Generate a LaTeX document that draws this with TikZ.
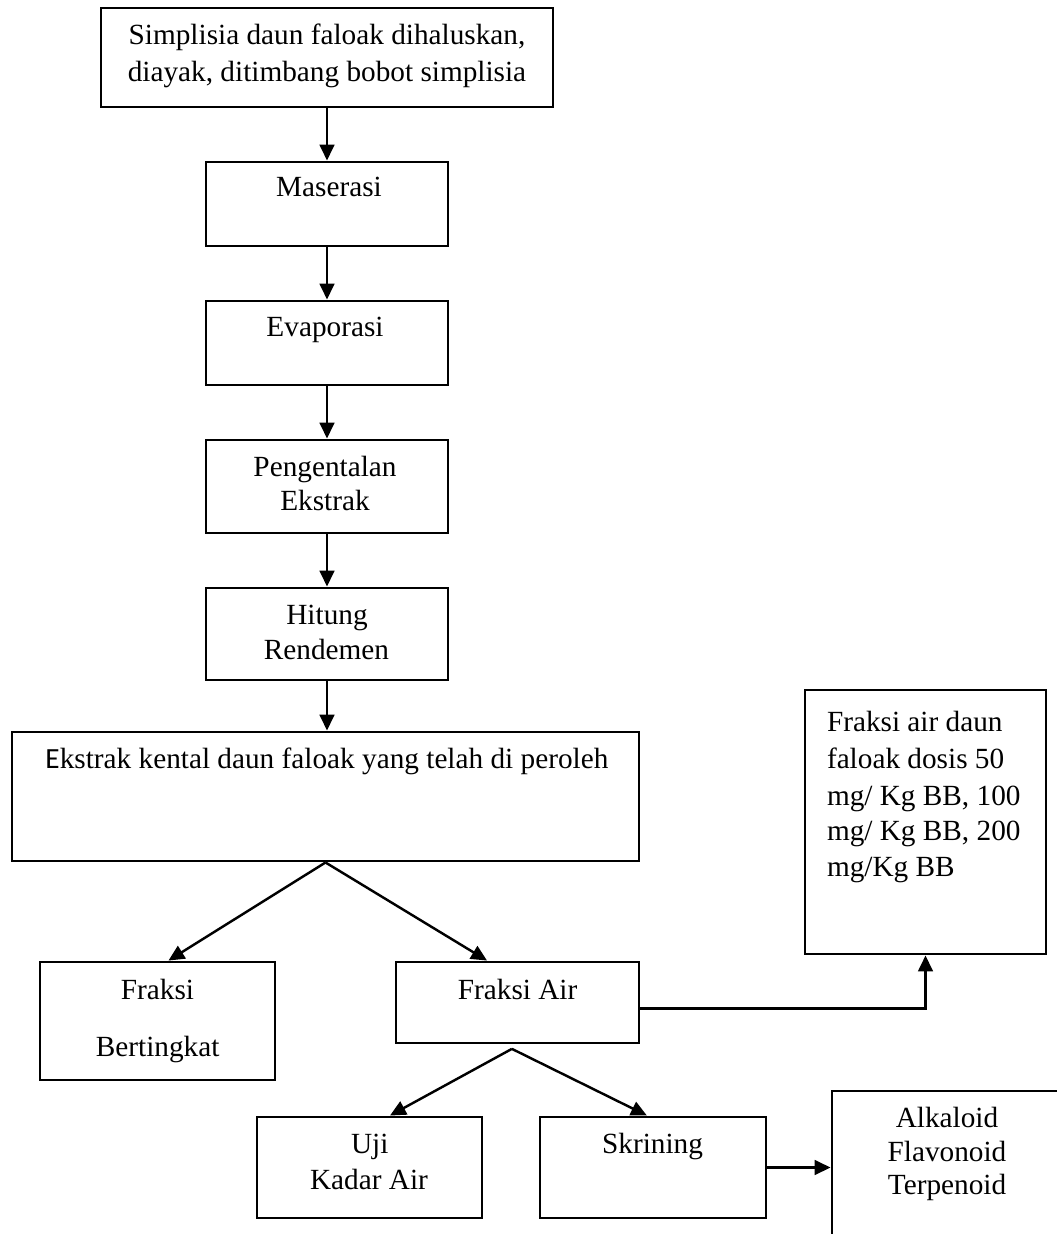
\documentclass[tikz,border=0pt]{standalone}
\usepackage{fontspec}
\setmainfont{Liberation Serif}
\newfontfamily\calfont{Carlito}
\usetikzlibrary{fit,arrows.meta,calc}
\begin{document}
\begin{tikzpicture}[x=0.41pt,y=-0.41pt,
  box/.style={draw,line width=1.2pt,inner sep=0pt,rectangle},
  txt/.style={inner sep=0pt,anchor=base,font=\fontsize{12}{14}\selectfont},
  txtl/.style={txt,anchor=base west},
  arr/.style={line width=1pt,-{Triangle[length=6.5pt,width=6pt]}}]
\useasboundingbox (0,0) rectangle (1057,1234);
\clip (0,0) rectangle (1057,1234);
% boxes
\node[box,fit={(101,8)(553,107)}] (top) {};
\node[box,fit={(206,162)(448,246)}] (mas) {};
\node[box,fit={(206,301)(448,385)}] (eva) {};
\node[box,fit={(206,440)(448,533)}] (pen) {};
\node[box,fit={(206,588)(448,680)}] (hit) {};
\node[box,fit={(12,732)(639,861)}] (eks) {};
\node[box,fit={(805,690)(1046,954)}] (fad) {};
\node[box,fit={(40,962)(275,1080)}] (fb) {};
\node[box,fit={(396,962)(639,1043)}] (fa) {};
\node[box,fit={(257,1117)(482,1218)}] (uji) {};
\node[box,fit={(540,1117)(766,1218)}] (skr) {};
\node[box,fit={(832,1091)(1062,1270)}] (alk) {};
% texts
\node[txt] (t1a) at (327,45) {Simplisia daun faloak dihaluskan,};
\node[txt] (t1b) at (327,82) {diayak, ditimbang bobot simplisia};
\node[txt] (t2) at (329,197) {Maserasi};
\node[txt] (t3) at (325,336.5) {Evaporasi};
\node[txt] (t4a) at (325,476.5) {Pengentalan};
\node[txt] (t4b) at (325,510.6) {Ekstrak};
\node[txt] (t5a) at (327,624.6) {Hitung};
\node[txt] (t5b) at (326.5,659.6) {Rendemen};
\node[txtl] (t6) at (45,768) {{\calfont E}kstrak kental daun faloak yang telah di peroleh};
\node[txtl] (t7a) at (826.5,731) {Fraksi air daun};
\node[txtl] (t7b) at (826.5,768) {faloak dosis 50};
\node[txtl] (t7c) at (826.5,805) {mg/ Kg BB, 100};
\node[txtl] (t7d) at (826.5,840.5) {mg/ Kg BB, 200};
\node[txtl] (t7e) at (826.5,876) {mg/Kg BB};
\node[txt] (t8a) at (157.5,999) {Fraksi};
\node[txt] (t8b) at (157.7,1056) {Bertingkat};
\node[txt] (t9) at (517.6,999) {Fraksi Air};
\node[txt] (t10a) at (369.7,1153.4) {Uji};
\node[txt] (t10b) at (369,1189) {Kadar Air};
\node[txt] (t11) at (652.5,1153.4) {Skrining};
\node[txt] (t12a) at (947,1127) {Alkaloid};
\node[txt] (t12b) at (947,1161) {Flavonoid};
\node[txt] (t12c) at (947,1194.5) {Terpenoid};
% connectors
\draw[arr] (top.south) -- (mas.north);
\draw[arr] (mas.south) -- (eva.north);
\draw[arr] (eva.south) -- (pen.north);
\draw[arr] (pen.south) -- (hit.north);
\draw[arr] (hit.south) -- (hit.south |- eks.north);
\draw[arr] (eks.south) -- ([xshift=4.5pt]fb.north);
\draw[arr] (eks.south) -- ([xshift=-12.5pt]fa.north);
\coordinate (fapex) at ([xshift=-2.3pt,yshift=-1.8pt]fa.south);
\draw[arr] (fapex) -- ([xshift=8.4pt]uji.north);
\draw[arr] (fapex) -- ([xshift=-2.5pt]skr.north);
\draw[arr] ([yshift=-2.5pt]fa.east) -| (fad.south);
\draw[arr] (skr.east) -- (alk.west |- skr.east);
\end{tikzpicture}
\end{document}
